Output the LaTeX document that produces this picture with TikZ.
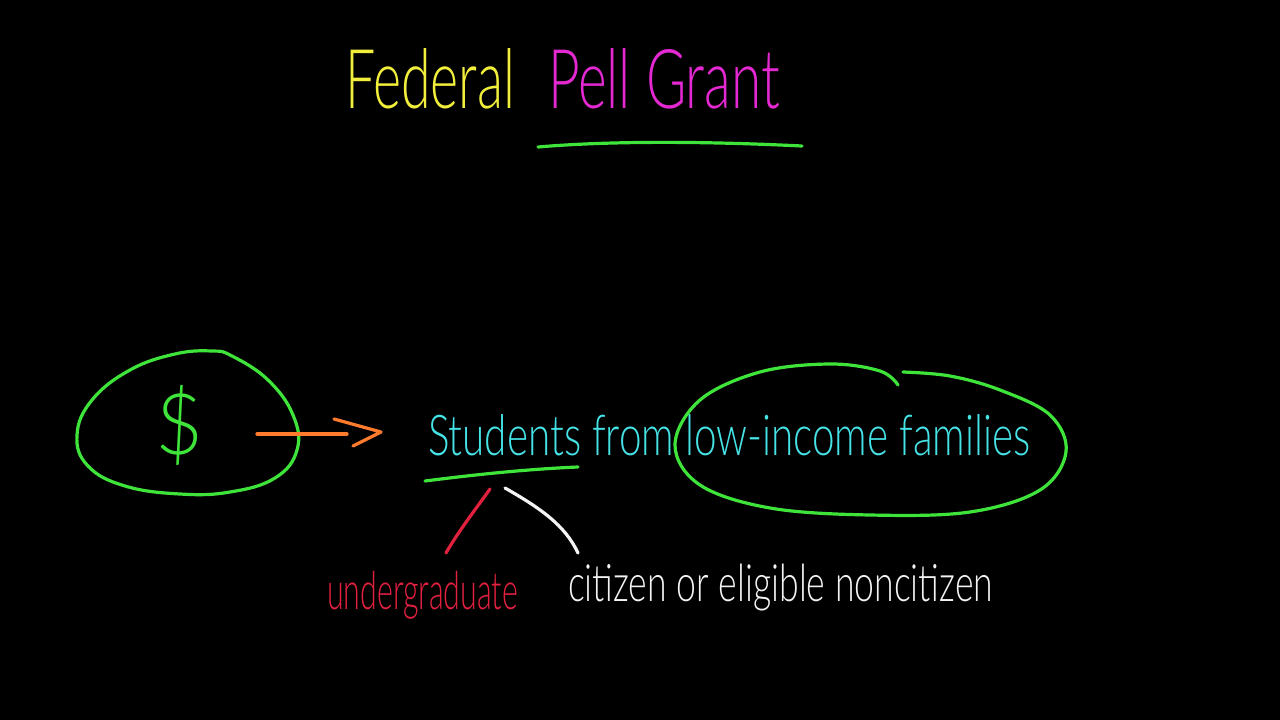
\documentclass[tikz,border=0pt]{standalone}
\usepackage{fontspec}
\IfFontExistsTF{Lato Light}{\newfontfamily\hand{Lato Light}}{\newfontfamily\hand{Lato}}
\definecolor{penyellow}{HTML}{F2EE3C}
\definecolor{penmagenta}{HTML}{E428D2}
\definecolor{pengreen}{HTML}{3FE43A}
\definecolor{pencyan}{HTML}{45E2E6}
\definecolor{penorange}{HTML}{FF7B2E}
\definecolor{penred}{HTML}{E2213F}
\definecolor{penwhite}{HTML}{F4F4F4}
\begin{document}
\begin{tikzpicture}[x=1pt,y=-1pt,
  pen/.style={line width=3.2pt, line cap=round, line join=round},
  txt/.style={anchor=north west, inner sep=0pt, outer sep=0pt}]
\fill[black] (0,0) rectangle (1280,720);
\useasboundingbox (0,0) rectangle (1280,720);

% title
\node[txt, text=penyellow] (fed) at (345,48) {\resizebox{170pt}{60pt}{\hand Federal}};
\node[txt, text=penmagenta] (pell) at (548,48) {\resizebox{232pt}{60pt}{\hand Pell Grant}};
\draw[pen, pengreen] (538,147) .. controls (620,140) and (720,142) .. (802,146);

% money ellipse
\node[txt, text=pengreen] (dollar) at (155,385) {\resizebox*{48pt}{80pt}{\hand \$}};
\draw[pen, pengreen] plot[smooth cycle, tension=0.7] coordinates {
  (212,351) (232,356) (268,380) (293,415) (297,450) (275,478) (230,492)
  (180,494) (125,486) (88,466) (77,435) (92,400) (130,370) (175,354)};

% arrow
\coordinate (arrS) at (257,434);
\coordinate (arrM) at (347,434);
\coordinate (arrT) at (381,432);
\draw[pen, penorange] (arrS) -- (arrM);
\draw[pen, penorange] (334,419) -- (arrT) -- (353,446);

% students text
\node[txt, text=pencyan] (students) at (428,414) {\resizebox{602pt}{41pt}{\hand Students from low-income families}};
\draw[pen, pengreen] (425,481) .. controls (480,474) and (530,469) .. (578,467);

% families ellipse
\draw[pen, pengreen] plot[smooth, tension=0.6] coordinates {
  (898,385) (880,371) (830,364) (760,372) (700,400) (675,445) (700,485)
  (770,508) (870,515) (970,512) (1040,490) (1066,452) (1050,415) (1000,390) (950,376) (903,372)};

% branches
\coordinate (rTop) at (490,489);
\coordinate (rBot) at (446,553);
\coordinate (wTop) at (505,488);
\coordinate (wBot) at (578,553);
\draw[pen, penred] (rTop) .. controls (475,510) and (458,532) .. (rBot);
\draw[pen, penwhite] (wTop) .. controls (540,508) and (565,525) .. (wBot);

\node[txt, text=penred] (under) at (327,571) {\resizebox*{191pt}{48pt}{\hand undergraduate}};
\node[txt, text=penwhite] (citizen) at (568,564) {\resizebox*{425pt}{47pt}{\hand citizen or eligible noncitizen}};
\end{tikzpicture}
\end{document}
